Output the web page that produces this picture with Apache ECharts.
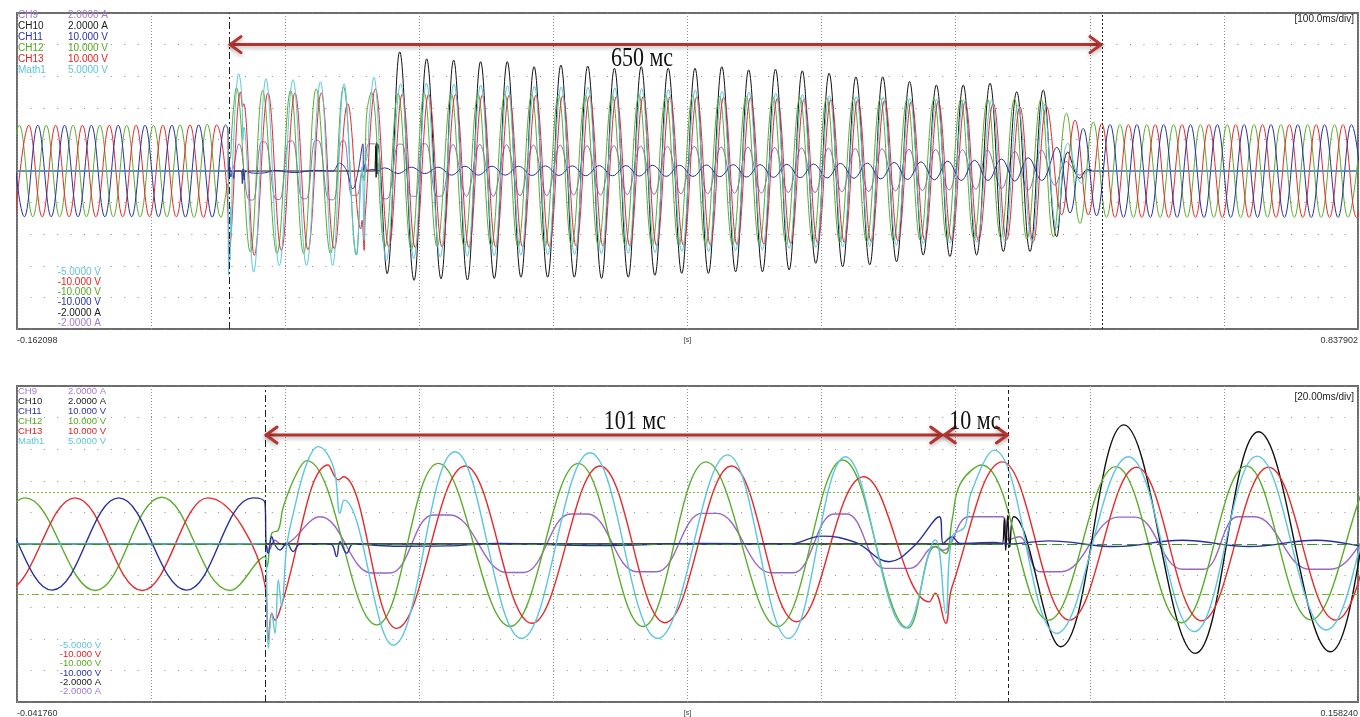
<!DOCTYPE html>
<html><head><meta charset="utf-8">
<script src="https://cdn.jsdelivr.net/npm/echarts@6/dist/echarts.min.js"></script>
<style>html,body{margin:0;padding:0;background:#fff}#c{width:1360px;height:717px}</style>
</head><body><div id="c"></div>
<script>
// Time in ms, values in screen divisions (10 divisions full height, 0 = centre line)
const topRange = [-162.098, 837.902];   // 100 ms/div
const botRange = [-41.760, 158.240];    // 20 ms/div
const topTickLabels = ['-0.162098', '0.837902'];
const botTickLabels = ['-0.041760', '0.158240'];
const channelNames = ['CH9', 'CH10', 'CH11', 'CH12', 'CH13', 'Math1'];
const channelScales = ['2.0000 A', '2.0000 A', '10.000 V', '10.000 V', '10.000 V', '5.0000 V'];
const channelScalesNeg = ['-5.0000 V', '-10.000 V', '-10.000 V', '-10.000 V', '-2.0000 A', '-2.0000 A'];
const negOrder = ['Math1', 'CH13', 'CH12', 'CH11', 'CH10', 'CH9'];
const topCursors = [-4.0, 647.0];
const botCursors = [-4.77, 106.1];
const topArrows = [[-4.0, 647.0, 4.0]];
const botArrows = [[-4.77, 96.3, 3.45], [96.4, 106.1, 3.45]];
const topArrowTexts = ['650 мс'];
const botArrowTexts = ['101 мс', '10 мс'];
const ch12RefLevels = [1.65, 0, -1.58];

// CH12 (green)
const ch12 = [
[-170.3,-1.45],[-160.3,1.45],[-150.3,-1.45],[-140.3,1.45],[-130.3,-1.45],[-120.3,1.45],[-110.3,-1.45],[-100.3,1.45],[-90.3,-1.45],[-80.3,1.45],[-70.3,-1.45],[-60.3,1.45],[-50.3,-1.45],[-40.5,1.46],[-30.1,-1.47],[-20.2,1.48],[-10.0,-1.47],
[-4.77,-0.4],[-4.47,-0.73],[-3.77,0.34],[-2.79,0.44],[-2.04,1.18],[-0.05,2.24],[1.45,2.64],[11.89,-2.56],[21.07,2.55],[31.77,-2.61],[41.95,2.55],[51.6,-2.61],[60.99,2.6],[71.69,-2.61],[81.4,2.66],[91.12,-2.66],
[95.18,-0.08],[96.75,-0.3],[97.7,0.76],[98.95,1.92],[102.1,2.5],[112.1,-2.41],[122.1,2.45],[131.9,-2.49],[141.6,2.47],[151.2,-2.4],
[161.7,2.45],[171.5,-2.42],[181.7,2.43],[191.5,-2.4],[201.7,2.44],[211.5,-2.4],[221.7,2.42],[231.5,-2.4],[241.7,2.42],[251.5,-2.38],[261.7,2.4],[271.5,-2.38],[281.7,2.41],[291.5,-2.37],[301.7,2.4],[311.5,-2.36],[321.7,2.38],[331.5,-2.36],[341.7,2.38],[351.5,-2.35],[361.7,2.36],[371.5,-2.34],[381.7,2.36],[391.5,-2.32],[401.7,2.35],[411.5,-2.3],[421.7,2.33],[431.5,-2.28],[441.7,2.32],[451.5,-2.26],[461.7,2.3],[471.5,-2.24],[481.7,2.3],[491.5,-2.22],[501.7,2.28],[511.5,-2.2],[521.7,2.28],[531.5,-2.16],[541.7,2.27],[551.5,-2.14],[561.7,2.27],[571.5,-2.12],[581.7,2.28],[591.0,-2.16],[601.5,2.28],[610.7,-2.08],[620.5,1.83],[630.6,-1.66],[640.5,1.55],
[650.4,-1.47],[660.4,1.47],[670.4,-1.47],[680.4,1.47],[690.4,-1.47],[700.4,1.47],[710.4,-1.47],[720.4,1.47],[730.4,-1.47],[740.4,1.47],[750.4,-1.47],[760.4,1.47],[770.4,-1.47],[780.4,1.47],[790.4,-1.47],[800.4,1.47],[810.4,-1.47],[820.4,1.47],[830.4,-1.47],[840.4,1.47]
];

// CH13 (red)
const ch13 = [
[-163.3,-1.45],[-153.3,1.45],[-143.3,-1.45],[-133.3,1.45],[-123.3,-1.45],[-113.3,1.45],[-103.3,-1.45],[-93.3,1.45],[-83.3,-1.45],[-73.3,1.45],[-63.3,-1.45],[-53.3,1.45],[-43.3,-1.45],[-33.1,1.46],[-23.1,-1.47],[-13.3,1.46],[-4.77,-1.3],
[-4.28,-3.04],[-3.77,-2.19],[-3.28,-2.41],[-2.54,-2.09],[4.67,2.5],[6.16,2.03],[6.91,2.13],[14.87,-2.67],[25.06,2.47],[35.0,-2.51],[45.19,2.47],[54.88,-2.49],[64.8,2.47],[74.5,-2.46],[84.5,2.13],[94.3,-1.83],
[95.2,-1.56],[96.75,-2.51],[97.7,-1.35],[105.2,2.6],[115.2,-2.41],[125.2,2.43],[134.9,-2.43],[144.9,2.43],[154.9,-2.41],
[164.9,2.42],[174.9,-2.42],[184.9,2.4],[194.9,-2.4],[204.9,2.4],[214.9,-2.4],[224.9,2.4],[234.9,-2.4],[244.9,2.38],[254.9,-2.38],[264.9,2.38],[274.9,-2.38],[284.9,2.36],[294.9,-2.37],[304.9,2.36],[314.9,-2.36],[324.9,2.35],[334.9,-2.35],[344.9,2.35],[354.9,-2.34],[364.9,2.33],[374.9,-2.33],[384.9,2.32],[394.9,-2.32],[404.9,2.3],[414.9,-2.3],[424.9,2.28],[434.9,-2.28],[444.9,2.26],[454.9,-2.26],[464.9,2.25],[474.9,-2.24],[484.9,2.23],[494.9,-2.22],[504.9,2.2],[514.9,-2.2],[524.9,2.2],[534.9,-2.2],[544.9,2.18],[554.9,-2.2],[565.9,2.14],[575.9,-2.18],[585.8,2.03],[595.7,-2.24],[605.7,2.03],[616.9,-1.39],[626.9,1.61],[636.8,-1.39],
[646.8,1.5],[656.7,-1.47],[666.7,1.47],[676.7,-1.47],[686.7,1.47],[696.7,-1.47],[706.7,1.47],[716.7,-1.47],[726.7,1.47],[736.7,-1.47],[746.7,1.47],[756.7,-1.47],[766.7,1.47],[776.7,-1.47],[786.7,1.47],[796.7,-1.47],[806.7,1.47],[816.7,-1.47],[826.7,1.47],[836.7,-1.47],[846.7,1.47]
];

// CH11 (blue)
const ch11 = [
[-166.6,1.45],[-156.6,-1.45],[-146.6,1.45],[-136.6,-1.45],[-126.6,1.45],[-116.6,-1.45],[-106.6,1.45],[-96.6,-1.45],[-86.6,1.45],[-76.6,-1.45],[-66.6,1.45],[-56.6,-1.45],[-46.6,1.45],[-36.5,-1.46],[-26.6,1.46],[-16.5,-1.46],[-6.6,1.46],[-4.77,1.3],
[-4.6,0.0],[-4.28,-0.29],[-3.77,0.23],[-3.28,-0.03],[-2.54,-0.19],[-1.54,0.02],[-0.55,-0.24],[0.45,0],[5.0,0],[5.9,-0.4],[6.41,0.07],[7.4,-0.29],[8.4,0],[14.36,-0.07],[22.3,-0.06],[30,0.02],[45,-0.05],[60,0.02],[73.3,0],[78.3,0.25],[83.3,0.05],[88.3,-0.56],[92.0,-0.07],[95.8,0.86],[96.4,0.02],[97.7,0.23],[98.9,0.02],[103.95,0.05],[106.1,0],
[112.1,0.1],[122,-0.08],[132,0.12],[142,-0.08],[152,0.12],[162,-0.13],[172,0.15],[182,-0.13],[192,0.15],[202,-0.13],[212,0.15],[222,-0.14],[232,0.16],[242,-0.14],[252,0.16],[262,-0.15],[272,0.17],[282,-0.15],[292,0.17],[302,-0.16],[312,0.18],[322,-0.17],[332,0.18],[342,-0.17],[352,0.19],[362,-0.18],[372,0.2],[382,-0.19],[392,0.2],[402,-0.2],[412,0.21],[422,-0.21],[432,0.22],[442,-0.22],[452,0.24],[462,-0.23],[472,0.25],[482,-0.25],[492,0.27],[502,-0.27],[512,0.29],[522,-0.28],[532,0.31],[542,-0.3],[552,0.34],[562,-0.3],[572,0.38],[582,-0.32],[592,0.42],[602,-0.3],
[613.2,0.75],[623.1,-1.33],[633,1.35],[643,-1.42],[653,1.47],[663,-1.47],[673,1.47],[683,-1.47],[693,1.47],[703,-1.47],[713,1.47],[723,-1.47],[733,1.47],[743,-1.47],[753,1.47],[763,-1.47],[773,1.47],[783,-1.47],[793,1.47],[803,-1.47],[813,1.47],[823,-1.47],[833,1.47],[843,-1.47]
];

// Math1 (cyan)
const math1 = [
[-170,0],[-5.3,0],[-4.77,0],[-4.28,-3.3],[-3.77,-2.19],[-3.28,-2.83],[-2.79,-1.14],[-2.29,-1.98],[-1.54,-0.08],[-0.55,0.97],[1.45,2.55],[3.18,3.08],[5.41,2.45],[6.41,0.97],[7.0,1.39],[14.36,-3.2],[23.56,2.92],[33.5,-2.99],[43.7,2.89],[53.8,-2.99],[64.2,2.82],[73.3,-2.99],[81.8,2.76],[90.8,-2.66],
[95.2,0.13],[96.75,-2.19],[97.7,0.23],[99.6,0.55],[100.5,1.6],[103.95,2.97],[113.3,-2.83],[124.0,2.76],[133.8,-2.77],[143.2,2.78],[153.5,-2.72],
[163.7,2.75],[173.7,-2.7],[183.7,2.72],[193.7,-2.68],[203.7,2.7],[213.7,-2.66],[223.7,2.68],[233.7,-2.65],[243.7,2.66],[253.7,-2.64],[263.7,2.65],[273.7,-2.62],[283.7,2.63],[293.7,-2.6],[303.7,2.6],[313.7,-2.58],[323.7,2.58],[333.7,-2.55],[343.7,2.56],[353.7,-2.55],[363.7,2.52],[373.7,-2.52],[383.7,2.5],[393.7,-2.5],[403.7,2.46],[413.7,-2.45],[423.7,2.42],[433.7,-2.42],[443.7,2.38],[453.7,-2.4],[463.7,2.35],[473.7,-2.38],[483.7,2.33],[493.7,-2.35],[503.7,2.3],[513.7,-2.3],[523.7,2.27],[533.7,-2.28],[543.7,2.25],[553.7,-2.25],[564.7,2.25],[574.7,-2.24],[584.3,2.09],[594.7,-2.24],[603.5,2.14],[613.2,-1.81],[621.5,0.88],[631.8,-0.39],[637,0.12],[641,0],[850,0]
];

// CH10 (black)
const ch10 = [
[-170,0],[104.8,0],[105.2,0],[105.5,0.8],[105.7,-0.2],[106.0,0.9],[106.3,-0.1],[106.9,0.86],[113.9,-3.25],[123.3,3.77],[133.98,-3.46],[143.4,3.55],[154.1,-3.41],
[163.5,3.51],[173.8,-3.45],[183.6,3.46],[193.8,-3.4],[203.5,3.46],[213.7,-3.36],[223.5,3.3],[233.6,-3.36],[243.5,3.35],[253.5,-3.36],[263.5,3.32],[273.8,-3.4],[283.4,3.25],[293.7,-3.36],[303.4,3.3],[313.6,-3.3],[323.5,3.25],[333.6,-3.24],[343.5,3.25],[353.5,-3.24],[363.5,3.3],[373.8,-3.19],[383.5,3.2],[393.8,-3.19],[403.5,3.22],[413.7,-3.13],[423.5,3.17],[433.6,-2.92],[443.5,3.09],[453.6,-3.03],[463.5,2.98],[473.8,-2.97],[483.5,2.98],[493.8,-2.87],[503.5,2.83],[513.7,-2.66],[523.5,2.72],[533.6,-2.71],[543.5,2.72],[553.5,-2.66],[563.5,2.78],[573.4,-2.55],[583.4,2.51],[593.3,-2.55],[603.2,2.56],[613.2,-2.08],[621.5,0.6],[630.6,-0.23],[636,0.05],[640,0],[850,0]
];

// CH9 (purple)
const ch9 = [
[-170,0],[-5.3,0],[-4.77,0],[-4.2,-0.2],[-3.3,0.12],[-2.3,-0.02],[3.43,0.86],[11.2,-0.92],[13.9,-0.92],[20.3,0.92],[22.8,0.92],[31.3,-0.9],[33.8,-0.9],[40.8,0.95],[43.3,0.95],[50.7,-0.88],[53.6,-0.88],[60.4,0.97],[62.6,0.97],[70.7,-0.91],[74.0,-0.91],[80.1,0.95],[82.0,0.95],[87.7,-0.77],[91.4,-0.77],
[95.2,-0.08],[96.4,-0.2],[100.2,0.86],[105.2,0.86],[106.1,0.13],[107.7,0.23],[110.8,-0.88],[113.9,-0.88],[122.5,0.85],[125.0,0.85],[132.1,-0.8],[135.2,-0.8],[140.3,0.86],[142.8,0.86],[151.0,-0.8],[154.1,-0.8],
[163,0.84],[173,-0.8],[183,0.84],[193,-0.8],[203,0.83],[213,-0.78],[223,0.82],[233,-0.78],[243,0.82],[253,-0.76],[263,0.8],[273,-0.76],[283,0.8],[293,-0.75],[303,0.79],[313,-0.74],[323,0.78],[333,-0.72],[343,0.78],[353,-0.72],[363,0.76],[373,-0.7],[383,0.76],[393,-0.7],[403,0.74],[413,-0.68],[423,0.73],[433,-0.68],[443,0.72],[453,-0.66],[463,0.71],[473,-0.65],[483,0.7],[493,-0.63],[503,0.69],[513,-0.62],[523,0.68],[533,-0.6],[543,0.67],[553,-0.58],[561.6,0.66],[572.2,-0.55],[582,0.62],[592,-0.6],[602,0.66],[612,-0.45],[620.1,0.3],[630.6,-0.13],[638,0.02],[642,0],[850,0]
];

const colors = {CH9:'#9a66c8', CH10:'#111111', CH11:'#26319e', CH12:'#5aad2c', CH13:'#e8282a', Math1:'#5cc5df'};
const textColors = {CH9:'#a47bd2', CH10:'#1a1a1a', CH11:'#2a32ae', CH12:'#55aa1e', CH13:'#e42222', Math1:'#5ec4dc'};
const channelData = {CH9: ch9, CH10: ch10, CH11: ch11, CH12: ch12, CH13: ch13, Math1: math1};
const drawOrder = ['CH9', 'CH10', 'CH12', 'CH13', 'CH11', 'Math1'];

const chart = echarts.init(document.getElementById('c'), null, {renderer: 'canvas'});
const legendFont = "'Liberation Sans Narrow','Arial Narrow','Liberation Sans',Arial,sans-serif";

function endLabels(range, labels) {
  return v => Math.abs(v - range[0]) < 0.01 ? labels[0] : (Math.abs(v - range[1]) < 0.01 ? labels[1] : '');
}
function xAxisCfg(gi, range, labels, step) {
  return {gridIndex: gi, type: 'value', min: range[0], max: range[1], interval: step,
    axisLine: {show: false}, axisTick: {show: false},
    axisLabel: {show: true, formatter: endLabels(range, labels), fontSize: 9, color: '#333', margin: 7,
      fontFamily: 'Liberation Sans, Arial, sans-serif',
      showMinLabel: true, showMaxLabel: true, alignMinLabel: 'left', alignMaxLabel: 'right', hideOverlap: false},
    splitLine: {show: true, lineStyle: {color: '#8e8e8e', width: 1, type: [1, 2]}},
    name: '[s]', nameLocation: 'middle', nameGap: 8, nameMoveOverlap: false,
    nameTextStyle: {fontSize: 7, color: '#333', verticalAlign: 'top'}};
}
function yAxisCfg(gi) {
  return {gridIndex: gi, type: 'value', min: -5, max: 5, interval: 1,
    axisLine: {show: false}, axisTick: {show: false}, axisLabel: {show: false},
    splitLine: {show: true, lineStyle: {color: '#8a8a8a', width: 1, type: [1, 12.41]}}};
}

const series = [];
[0, 1].forEach(gi => {
  drawOrder.forEach(name => {
    const s = {type: 'line', name: name + (gi ? '_b' : '_t'), xAxisIndex: gi, yAxisIndex: gi,
      data: channelData[name], smooth: 0.4, symbol: 'none', showSymbol: false, clip: true,
      lineStyle: {color: colors[name], width: gi ? 1.4 : 1.0}, silent: true, animation: false, z: 3};
    if (name === 'CH12' && gi === 1) {
      s.markLine = {symbol: 'none', silent: true, animation: false, label: {show: false},
        data: ch12RefLevels.map((v, i) => ({yAxis: v, lineStyle: {color: i === 1 ? '#3f8f28' : '#74b83a', width: 1,
          type: i === 0 ? [2, 2] : (i === 1 ? [10, 5] : [7, 3, 2, 3])}}))};
    }
    if (name === 'CH10') {
      const cur = gi ? botCursors : topCursors;
      s.markLine = {symbol: 'none', silent: true, animation: false, label: {show: false},
        data: cur.map((v, i) => ({xAxis: v, lineStyle: {color: '#222', width: 1, type: i === 0 ? [7, 3, 2, 3] : (gi ? [4, 3] : [2, 2])}}))};
    }
    series.push(s);
  });
});

function arrowSeries(gi, arrows, texts, textPos) {
  return {type: 'custom', xAxisIndex: gi, yAxisIndex: gi, data: arrows, encode: {x: [0, 1], y: 2},
    clip: false, silent: true, animation: false, z: 20,
    renderItem: (params, api) => {
      const p1 = api.coord([api.value(0), api.value(2)]);
      const p2 = api.coord([api.value(1), api.value(2)]);
      const col = '#b3342e', w = 12, h = 8;
      const st = {stroke: col, lineWidth: 3, fill: null, lineCap: 'round', lineJoin: 'round',
        shadowBlur: 4, shadowColor: 'rgba(0,0,0,0.3)', shadowOffsetY: 2};
      const tp = textPos[params.dataIndex];
      const tc = api.coord([tp[0], tp[1]]);
      return {type: 'group', children: [
        {type: 'line', shape: {x1: p1[0] + 1, y1: p1[1], x2: p2[0] - 1, y2: p2[1]}, style: st},
        {type: 'polyline', shape: {points: [[p1[0] + w, p1[1] - h], [p1[0] + 1, p1[1]], [p1[0] + w, p1[1] + h]]}, style: st},
        {type: 'polyline', shape: {points: [[p2[0] - w, p2[1] - h], [p2[0] - 1, p2[1]], [p2[0] - w, p2[1] + h]]}, style: st},
        {type: 'text', x: tc[0], y: tc[1], scaleY: 1.2,
          style: {text: texts[params.dataIndex], font: "22px 'Liberation Serif','Times New Roman',serif", fill: '#111',
            align: 'center', verticalAlign: 'middle', textAlign: 'center', textVerticalAlign: 'middle'}}
      ]};
    }};
}
series.push(arrowSeries(0, topArrows, topArrowTexts, [[304, 3.54]]));
series.push(arrowSeries(1, botArrows, botArrowTexts, [[50.4, 3.86], [101.1, 3.86]]));

const graphics = [];
function legendBlock(y0, dy, yNeg0, dyNeg, fs) {
  channelNames.forEach((n, i) => {
    graphics.push({type: 'text', x: 18, y: y0 + dy * i, style: {text: n, fill: textColors[n], font: fs + 'px ' + legendFont, textAlign: 'left', textVerticalAlign: 'middle', align: 'left', verticalAlign: 'middle'}, z: 100});
    graphics.push({type: 'text', x: 68, y: y0 + dy * i, style: {text: channelScales[i], fill: textColors[n], font: fs + 'px ' + legendFont, textAlign: 'left', textVerticalAlign: 'middle', align: 'left', verticalAlign: 'middle'}, z: 100});
  });
  negOrder.forEach((n, i) => {
    graphics.push({type: 'text', x: 101, y: yNeg0 + dyNeg * i, style: {text: channelScalesNeg[i], fill: textColors[n], font: fs + 'px ' + legendFont, textAlign: 'right', textVerticalAlign: 'middle', align: 'right', verticalAlign: 'middle'}, z: 100});
  });
}
legendBlock(15.5, 10.9, 272, 10.2, 10);
legendBlock(391.7, 10, 645, 9.3, 9.5);
graphics.push({type: 'text', x: 1354, y: 19, style: {text: '[100.0ms/div]', fill: '#222', font: '10px ' + legendFont, textAlign: 'right', textVerticalAlign: 'middle', align: 'right', verticalAlign: 'middle'}, z: 100});
graphics.push({type: 'text', x: 1354, y: 397, style: {text: '[20.00ms/div]', fill: '#222', font: '10px ' + legendFont, textAlign: 'right', textVerticalAlign: 'middle', align: 'right', verticalAlign: 'middle'}, z: 100});

chart.setOption({
  animation: false,
  backgroundColor: '#ffffff',
  grid: [
    {left: 17, top: 13, width: 1341, height: 316, show: true, borderColor: '#6c6c6c', borderWidth: 2, backgroundColor: '#fff', containLabel: false, outerBoundsMode: 'none'},
    {left: 17, top: 386, width: 1341, height: 316, show: true, borderColor: '#6c6c6c', borderWidth: 2, backgroundColor: '#fff', containLabel: false, outerBoundsMode: 'none'}
  ],
  xAxis: [xAxisCfg(0, topRange, topTickLabels, 100), xAxisCfg(1, botRange, botTickLabels, 20)],
  yAxis: [yAxisCfg(0), yAxisCfg(1)],
  series: series,
  graphic: graphics
});
</script>
</body></html>
